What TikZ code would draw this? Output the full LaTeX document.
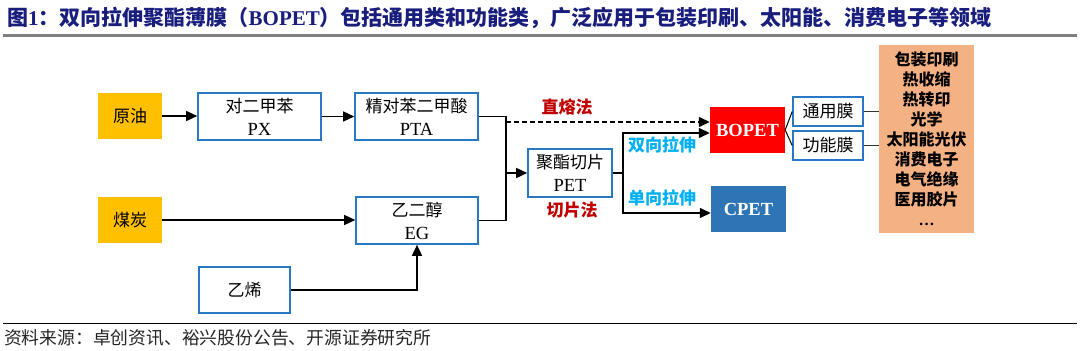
\documentclass[tikz,border=0pt]{standalone}
\usepackage{fontspec}
\setmainfont{Liberation Serif}
\newfontfamily\cjk{Noto Sans CJK SC}
\usetikzlibrary{arrows.meta}
\definecolor{titleblue}{RGB}{25,30,125}
\definecolor{boxblue}{RGB}{40,120,195}
\definecolor{gold}{RGB}{255,192,0}
\definecolor{peach}{RGB}{244,177,131}
\definecolor{bred}{RGB}{255,0,0}
\definecolor{steel}{RGB}{46,117,182}
\definecolor{lred}{RGB}{192,0,0}
\definecolor{lblue}{RGB}{0,176,240}
\begin{document}
\begin{tikzpicture}[x=1pt,y=-1pt,
  bluebox/.style={draw=boxblue, line width=1.6pt, fill=white, inner sep=0pt, align=center,
    font=\fontsize{18.5}{23}\selectfont},
  goldbox/.style={fill=gold, inner sep=0pt, minimum width=64pt, minimum height=46pt,
    font=\cjk\fontsize{17}{20}\selectfont},
  prodbox/.style={inner sep=0pt, minimum width=75pt, minimum height=46pt, text=white,
    font=\bfseries\fontsize{18.5}{20}\selectfont},
  lbl/.style={inner sep=0pt, font=\cjk\bfseries\fontsize{17}{20}\selectfont},
  conn/.style={line width=1.4pt},
  arr/.style={conn, -{Triangle[length=11pt,width=10pt]}}
]
\useasboundingbox (0,0) rectangle (1080,351);
\fill[white] (0,0) rectangle (1080,351);

% title
\node[anchor=west, inner sep=0pt, text=titleblue, font=\bfseries\fontsize{21}{24}\selectfont] (title) at (7,18)
  {{\cjk 图}1{\cjk ：双向拉伸聚酯薄膜（}BOPET{\cjk ）包括通用类和功能类，广泛应用于包装印刷、太阳能、消费电子等领域}};
\draw[line width=3pt, black!50] (3,35) -- (1077,35);

% raw materials
\node[goldbox] (yy) at (130,116) {原油};
\node[goldbox] (mt) at (130,220) {煤炭};

% intermediates
\node[bluebox, minimum width=123pt, minimum height=47pt] (px) at (259.5,116.5) {{\cjk\fontsize{17}{23}\selectfont 对二甲苯}\\PX};
\node[bluebox, minimum width=123pt, minimum height=47pt] (pta) at (416.5,116.5) {{\cjk\fontsize{17}{23}\selectfont 精对苯二甲酸}\\PTA};
\node[bluebox, minimum width=122pt, minimum height=47pt] (eg) at (417,220.5) {{\cjk\fontsize{17}{23}\selectfont 乙二醇}\\EG};
\node[bluebox, minimum width=91pt, minimum height=46pt, font=\cjk\fontsize{17}{20}\selectfont] (yx) at (244.5,290) {乙烯};
\node[bluebox, minimum width=84pt, minimum height=48pt] (pet) at (570,173) {{\cjk\fontsize{17}{23}\selectfont 聚酯切片}\\PET};

% products
\node[prodbox, fill=bred] (bopet) at (747.5,130) {BOPET};
\node[prodbox, fill=steel] (cpet) at (748.5,209) {CPET};

\node[bluebox, minimum width=70pt, minimum height=29pt, font=\cjk\fontsize{17}{20}\selectfont] (ty) at (828,111.5) {通用膜};
\node[bluebox, minimum width=70pt, minimum height=29pt, font=\cjk\fontsize{17}{20}\selectfont] (gn) at (828,145.5) {功能膜};

\node[fill=peach, inner sep=0pt, minimum width=95pt, minimum height=188pt, align=center,
  font=\cjk\bfseries\fontsize{16}{20}\selectfont] (app) at (926.5,139)
  {包装印刷\\热收缩\\热转印\\光学\\太阳能光伏\\消费电子\\电气绝缘\\医用胶片\\{\rmfamily\bfseries …}};

% labels
\node[lbl, text=lred] (zr) at (567,107) {直熔法};
\node[lbl, text=lred] (qp) at (572,210) {切片法};
\node[lbl, text=lblue] (sx) at (662,145) {双向拉伸};
\node[lbl, text=lblue] (dx) at (662,198) {单向拉伸};

% connectors
\draw[arr] (yy.east) -- (yy.east -| px.west);
\draw[arr] (px.east) -- (px.east -| pta.west);
\draw[arr] (mt.east) -- (mt.east -| eg.west);
\draw[arr] (yx.east) -| (eg.south);

\coordinate (jx) at (506,173);
\coordinate (dj) at (506,122);
\draw[conn] (pta.east) -- (pta.east -| jx) -- (eg.east -| jx) -- (eg.east);
\draw[arr] (jx) -- (pet.west);
\draw[arr, dash pattern=on 5pt off 3pt] (dj) -- (dj -| bopet.west);

\coordinate (kx) at (623,173);
\coordinate (k1) at (623,133);
\coordinate (k2) at (623,213);
\draw[conn] (pet.east) -- (kx);
\draw[arr] (kx) -- (k1) -- (k1 -| bopet.west);
\draw[arr] (kx) -- (k2) -- (k2 -| cpet.west);

\draw[line width=1pt] (ty.west) -- (bopet.east) -- (gn.west);
\draw[conn, black!80] (ty.east) -- (ty.east -| app.west);
\draw[conn, black!80] (gn.east) -- (gn.east -| app.west);

% source
\draw[line width=1pt] (3,323) -- (1077,323);
\node[anchor=west, inner sep=0pt, text=black!85, font=\cjk\fontsize{17.8}{20}\selectfont] (src) at (4,338)
  {资料来源：卓创资讯、裕兴股份公告、开源证券研究所};
\end{tikzpicture}
\end{document}
